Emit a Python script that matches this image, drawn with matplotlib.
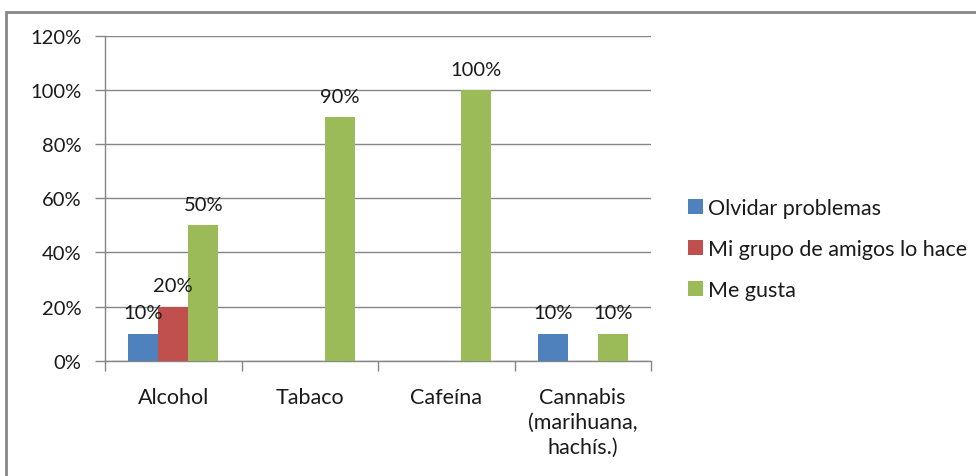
import matplotlib.pyplot as plt
import matplotlib.patches as mpatches
import numpy as np

# Datos de la encuesta (fracción de respuestas)
categorias = ['Alcohol', 'Tabaco', 'Cafeína', 'Cannabis\n(marihuana,\nhachís.)']
series = ['Olvidar problemas', 'Mi grupo de amigos lo hace', 'Me gusta']
olvidar = [0.10, 0.0, 0.0, 0.10]
amigos = [0.20, 0.0, 0.0, 0.0]
me_gusta = [0.50, 0.90, 1.00, 0.10]
colores = ['#4F81BD', '#C0504D', '#9BBB59']
yticks = [0, 0.2, 0.4, 0.6, 0.8, 1.0, 1.2]

plt.rcParams['font.family'] = ['Lato', 'DejaVu Sans']
color_texto = '#1a1a1a'
color_gris = '#868686'
fs_num = 14.5
fs_txt = 15.5

fig = plt.figure(figsize=(9.76, 4.77), dpi=100)
W, H = 976, 477

# Marco del gráfico
fig.patches.append(mpatches.Rectangle((6 / W, -0.1), 1.2, 1 - 13 / H + 0.1,
                                      transform=fig.transFigure, fill=False,
                                      edgecolor=color_gris, linewidth=2))

ax = fig.add_axes([105 / W, 1 - 361.7 / H, (651 - 105) / W, (361.7 - 37) / H])

x = np.arange(len(categorias))
ancho = 0.22
for k, (valores, nombre, color) in enumerate(zip([olvidar, amigos, me_gusta], series, colores)):
    pos = x + (k - 1) * ancho
    ax.bar(pos, valores, width=ancho, color=color, label=nombre, zorder=3)
    for xi, v in zip(pos, valores):
        if v > 0:
            ax.annotate(f'{v:.0%}', (xi, v), xytext=(0, 15), textcoords='offset points',
                        ha='center', va='center', fontsize=fs_num, color=color_texto, zorder=4)

ax.set_xlim(-0.5, len(categorias) - 0.5)
ax.set_ylim(0, 1.2)
ax.set_yticks(yticks)
ax.set_yticklabels([f'{t:.0%}' for t in yticks], fontsize=fs_num, color=color_texto)
ax.grid(True, axis='y', color=color_gris, linewidth=1, zorder=0)

ax.set_xticks(x)
ax.set_xticklabels(categorias, fontsize=fs_txt, color=color_texto, linespacing=1.3)
ax.set_xticks(np.arange(-0.5, len(categorias)), minor=True)
ax.tick_params(axis='x', which='major', length=0, pad=19)
ax.tick_params(axis='x', which='minor', length=7, color=color_gris, width=1)
ax.tick_params(axis='y', length=7, color=color_gris, width=1, pad=10)
for lado in ['top', 'right']:
    ax.spines[lado].set_visible(False)
for lado in ['left', 'bottom']:
    ax.spines[lado].set_color(color_gris)
    ax.spines[lado].set_linewidth(1)

handles, labels = ax.get_legend_handles_labels()
fig.legend(handles, labels, loc='center left', bbox_to_anchor=(669 / W, 1 - 250 / H),
           frameon=False, fontsize=fs_txt, handlelength=0.68, handleheight=0.68,
           handletextpad=0.25, labelspacing=0.97, labelcolor=color_texto)

fig.savefig('out.png', dpi=100)
